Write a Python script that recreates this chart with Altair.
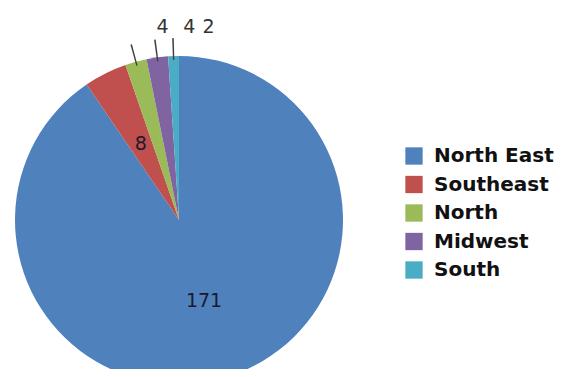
import altair as alt
import pandas as pd

regions = ["North East", "Southeast", "North", "Midwest", "South"]
counts = [171, 8, 4, 4, 2]
colors = ["#4F81BD", "#C0504D", "#9BBB59", "#8064A2", "#4BACC6"]

df = pd.DataFrame({"region": regions, "count": counts, "order": list(range(len(regions)))})

CX, CY, R = 171, 212, 164
TOTAL = sum(counts)

base = alt.Chart(df).transform_window(
    cum="sum(count)", sort=[alt.SortField("order")], frame=[None, 0]
).transform_calculate(
    start="datum.cum - datum.count",
    mid="datum.cum - datum.count / 2",
    lo="datum.cum - datum.count / 2 - 0.13",
    hi="datum.cum - datum.count / 2 + 0.13",
    rr=f"193 / cos(2 * PI * (datum.cum - datum.count / 2) / {TOTAL})",
)

theta_scale = alt.Scale(domain=[0, TOTAL], range=[0, 6.283185307179586])

pie = base.mark_arc().encode(
    x=alt.value(CX), y=alt.value(CY),
    theta=alt.Theta("start:Q", scale=theta_scale, stack=None),
    theta2="cum:Q",
    radius=alt.value(R),
    color=alt.Color(
        "region:N",
        scale=alt.Scale(domain=regions, range=colors),
        sort=regions,
        legend=alt.Legend(
            title=None, orient="none", legendX=396, legendY=138,
            symbolType="square", symbolSize=300, symbolStrokeWidth=0,
            labelFont="DejaVu Sans", labelFontWeight="bold", labelFontSize=20,
            labelColor="#111111", labelOffset=10, rowPadding=8.5, padding=0,
            labelLimit=300,
        ),
    ),
)

inner = base.transform_filter("datum.count >= 8").mark_text(
    font="DejaVu Sans", fontSize=19, color="#1a1a2e"
).encode(
    x=alt.value(CX), y=alt.value(CY),
    theta=alt.Theta("mid:Q", scale=theta_scale, stack=None),
    radius=alt.value(85),
    text="count:Q",
)

leaders = base.transform_filter("datum.count < 8").mark_arc(color="#404040").encode(
    x=alt.value(CX), y=alt.value(CY),
    theta=alt.Theta("lo:Q", scale=theta_scale, stack=None),
    theta2="hi:Q",
    radius=alt.value(182), radius2=alt.value(160),
)

outer = base.transform_filter("datum.count < 8").mark_text(
    font="DejaVu Sans", fontSize=19, color="#333333", dx=36
).encode(
    x=alt.value(CX), y=alt.value(CY),
    theta=alt.Theta("mid:Q", scale=theta_scale, stack=None),
    radius=alt.Radius("rr:Q", scale=None),
    text="count:Q",
)

chart = alt.layer(pie, leaders, inner, outer).properties(
    width=547, height=361, padding=0,
    autosize=alt.AutoSizeParams(type="none"),
).configure_view(stroke=None)

chart.save("out.html", embed_options={"renderer": "svg", "actions": False})
